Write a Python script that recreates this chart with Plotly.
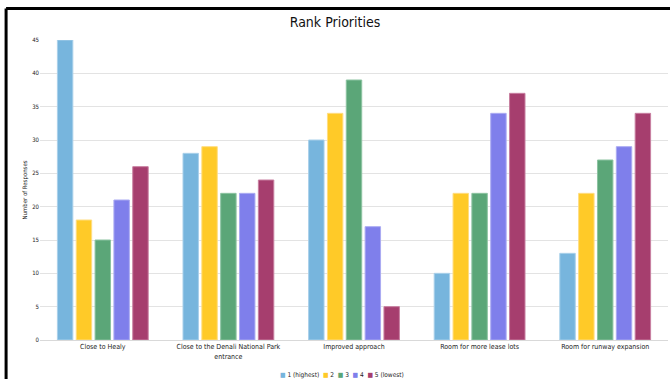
import plotly.graph_objects as go

categories = [
    "Close to Healy",
    "Close to the Denali National Park<br>entrance",
    "Improved approach",
    "Room for more lease lots",
    "Room for runway expansion",
]
rank_names = ["1 (highest)", "2", "3", "4", "5 (lowest)"]
rank1 = [45, 28, 30, 10, 13]
rank2 = [18, 29, 34, 22, 22]
rank3 = [15, 22, 39, 22, 27]
rank4 = [21, 22, 17, 34, 29]
rank5 = [26, 24, 5, 37, 34]

series = [rank1, rank2, rank3, rank4, rank5]
cols = ["#77B5DD", "#FFCA28", "#5BA678", "#7F7FEB", "#A63E6E"]
edge = ["#A9D0EA", "#FFDD80", "#8CC3A1", "#ABABF2", "#C87FA0"]

font = "DejaVu Sans Condensed, Roboto, sans-serif"

fig = go.Figure()
for name, vals, c, e in zip(rank_names, series, cols, edge):
    fig.add_trace(
        go.Bar(
            x=categories,
            y=vals,
            name=name,
            showlegend=False,
            marker={"color": c, "line": {"color": e, "width": 1}},
        )
    )

# compact legend, written as one line of text
legend_text = "  ".join(
    f'<span style="color:{c}">■</span> {n}' for n, c in zip(rank_names, cols)
)

fig.update_layout(
    width=670,
    height=379,
    barmode="group",
    bargap=0.25,
    bargroupgap=0.18,
    plot_bgcolor="white",
    paper_bgcolor="white",
    font={"family": font, "size": 7, "color": "#222222"},
    title={
        "text": "Rank Priorities",
        "x": 0.5,
        "xanchor": "center",
        "y": 0.942,
        "yanchor": "middle",
        "font": {"size": 14, "color": "#111111"},
    },
    margin={"l": 40, "r": 2, "t": 40, "b": 39},
    annotations=[
        {
            "text": legend_text,
            "xref": "paper",
            "yref": "paper",
            "x": 0.481,
            "y": -0.115,
            "xanchor": "center",
            "yanchor": "middle",
            "showarrow": False,
            "font": {"size": 6.5, "color": "#222222"},
        }
    ],
    shapes=[
        {
            "type": "line",
            "xref": "paper",
            "yref": "paper",
            "x0": -0.054,
            "x1": -0.054,
            "y0": -0.2,
            "y1": 1.105,
            "line": {"color": "black", "width": 3},
        },
        {
            "type": "line",
            "xref": "paper",
            "yref": "paper",
            "x0": -0.054,
            "x1": 1.01,
            "y0": 1.105,
            "y1": 1.105,
            "line": {"color": "black", "width": 3},
        },
    ],
)

fig.update_xaxes(
    showline=True,
    linecolor="#d9d9d9",
    linewidth=1,
    tickfont={"size": 7},
    ticks="",
    automargin=False,
)
fig.update_yaxes(
    title={"text": "Number of Responses", "font": {"size": 6}, "standoff": 4},
    range=[0, 45],
    dtick=5,
    showgrid=True,
    gridcolor="#e3e3e3",
    zeroline=False,
    tickfont={"size": 6},
    automargin=False,
)

fig.write_html(
    "out.html",
    config={"displayModeBar": False},
    post_script="document.body.style.margin='0';",
)
